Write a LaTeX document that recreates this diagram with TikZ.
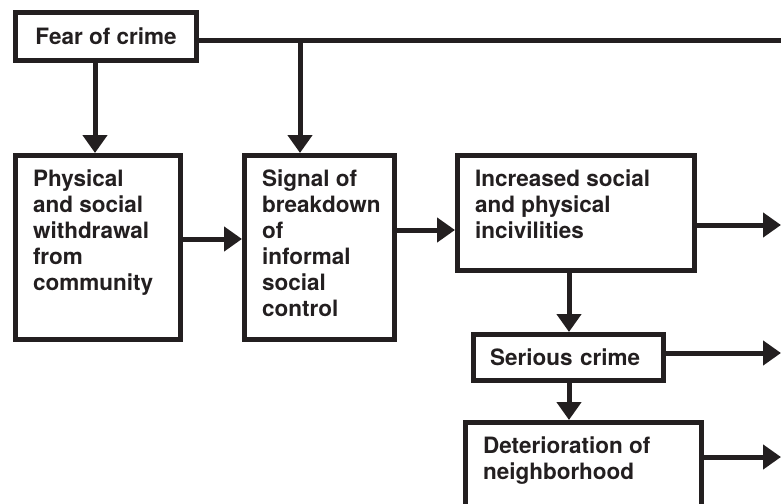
\documentclass[tikz,border=0pt]{standalone}
\usepackage{fontspec}
\setmainfont{TeX Gyre Heros}
\usetikzlibrary{arrows.meta}
\definecolor{ink}{RGB}{35,31,32}
\newcommand\boxtext[3]{\parbox[t][#2][t]{#1}{#3}}
\begin{document}
\begin{tikzpicture}[x=1pt,y=-1pt,
  every node/.style={font=\bfseries\fontsize{22.5}{26}\selectfont, text=ink},
  box/.style={draw=ink, line width=5pt, outer sep=2.5pt, anchor=north west, inner xsep=17.5pt, inner ysep=14.5pt},
  cbox/.style={draw=ink, line width=5pt, outer sep=2.5pt, anchor=north west, inner sep=0pt},
  lbox/.style={draw=ink, line width=5pt, outer sep=2.5pt, anchor=north west, inner xsep=16.5pt, inner ysep=0pt, align=left},
  conn/.style={draw=ink, line width=5pt},
  arr/.style={conn, -{Triangle[length=18pt,width=24pt]}}]
\useasboundingbox (0,0) rectangle (781,503);
\clip (0,0) rectangle (781,503);

\node[cbox, minimum width=181pt, minimum height=48pt] (fear) at (13,10) {Fear of crime};
\node[box] (phys) at (13,153) {\boxtext{130pt}{155pt}{Physical\\and social\\withdrawal\\from\\community}};
\node[box] (signal) at (242,153) {\boxtext{115pt}{155pt}{Signal of\\breakdown\\of\\informal\\social\\control}};
\node[box] (incr) at (455,153) {\boxtext{202pt}{86pt}{Increased social\\and physical\\incivilities}};
\node[lbox, text width=157pt, minimum height=46pt] (serious) at (471,332) {Serious crime};
\node[box] (deter) at (463,420) {\boxtext{201pt}{91pt}{Deterioration of\\neighborhood}};

\coordinate (topR) at (781,41);
\coordinate (br) at (300,41);
\coordinate (v1) at (95,0);
\coordinate (v2) at (569,0);
\coordinate (h1) at (0,239);
\coordinate (h2) at (0,230);
\coordinate (r1) at (781,225);
\coordinate (r2) at (781,353);
\coordinate (r3) at (781,457);

\draw[conn] (fear.east |- br) -- (topR);
\draw[arr] (br) -- (br |- signal.north);
\draw[arr] (v1 |- fear.south) -- (v1 |- phys.north);
\draw[arr] (phys.east |- h1) -- (signal.west |- h1);
\draw[arr] (signal.east |- h2) -- (incr.west |- h2);
\draw[arr] (incr.east |- r1) -- (r1);
\draw[arr] (v2 |- incr.south) -- (v2 |- serious.north);
\draw[arr] (serious.east |- r2) -- (r2);
\draw[arr] (v2 |- serious.south) -- (v2 |- deter.north);
\draw[arr] (deter.east |- r3) -- (r3);
\end{tikzpicture}
\end{document}
